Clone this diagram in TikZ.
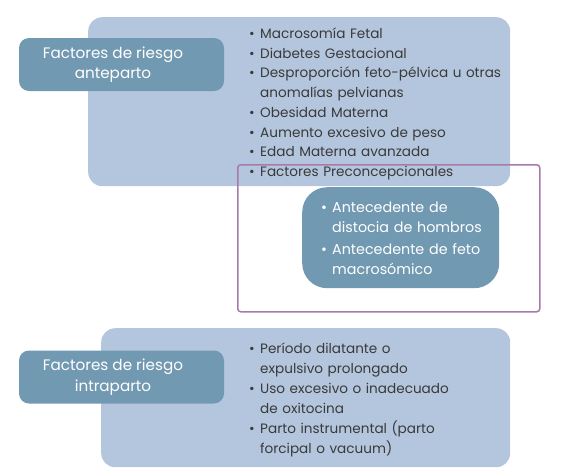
\documentclass[tikz,border=0pt]{standalone}
\usepackage{fontspec}
\setmainfont{Poppins}
\usetikzlibrary{positioning}

\definecolor{panelblue}{HTML}{B4C6DD}
\definecolor{tagblue}{HTML}{7299B2}
\definecolor{framepurple}{HTML}{A87AAA}
\definecolor{listgray}{HTML}{3A3A3A}

% one bullet line, later lines hang under the text
\newcommand{\bitem}[1]{\par\noindent\makebox[11pt][l]{\textbullet}\begin{tabular}[t]{@{}l@{}}#1\end{tabular}\par}
% two centred lines for a tag
\newcommand{\taglines}[1]{\begin{tabular}{@{}c@{}}#1\end{tabular}}

\begin{document}
\begin{tikzpicture}[
      x=1pt, y=-1pt,
      panel/.style={fill=panelblue, rounded corners=14pt, anchor=north west, inner sep=0pt},
      tag/.style={fill=tagblue, rounded corners=10pt, minimum width=205pt, minimum height=53pt},
      tagtext/.style={text=white, inner sep=0pt, font=\fontsize{15.2}{20.5}\selectfont},
      items/.style={anchor=north west, inner sep=0pt, text width=300pt, text=listgray, font=\fontsize{13.6}{19.5}\selectfont},
      frame/.style={draw=framepurple, line width=1.5pt, rounded corners=3pt, anchor=north west, inner sep=0pt}
  ]
    \useasboundingbox (0,0) rectangle (567,475);

    % anteparto
    \node[panel, minimum width=422pt, minimum height=169pt] (antepanel) at (88,17) {};
    \node[items] (antelist) at (249,19) {
      \bitem{Macrosomía Fetal}
      \bitem{Diabetes Gestacional}
      \bitem{Desproporción feto-pélvica u otras\\anomalías pelvianas}
      \bitem{Obesidad Materna}
      \bitem{Aumento excesivo de peso}
      \bitem{Edad Materna avanzada}
      \bitem{Factores Preconcepcionales}
    };
    \node[frame, minimum width=302pt, minimum height=147pt] (preframe) at (237,164) {};
    \node[tag] (antetag) at (121.5,64.5) {};
    \node[tagtext] (antetext) at ([xshift=-8.5pt]antetag.center) {\taglines{Factores de riesgo\\anteparto}};
    \node[fill=tagblue, rounded corners=25pt, anchor=north west, minimum width=197pt, minimum height=101pt, inner sep=0pt] (prebox) at (302,187) {};
    \node[items, text=white, text width=180pt, font=\fontsize{14.3}{20.3}\selectfont] (prelist) at (321,192) {
      \bitem{Antecedente de\\distocia de hombros}
      \bitem{Antecedente de feto\\macrosómico}
    };

    % intraparto
    \node[panel, minimum width=409pt, minimum height=139pt] (intrapanel) at (101,328) {};
    \node[items] (intralist) at (249,334) {
      \bitem{Período dilatante o\\expulsivo prolongado}
      \bitem{Uso excesivo o inadecuado\\de oxitocina}
      \bitem{Parto instrumental (parto\\forcipal o vacuum)}
    };
    \node[tag] (intratag) at (121.5,377) {};
    \node[tagtext] (intratext) at ([xshift=-8.5pt]intratag.center) {\taglines{Factores de riesgo\\intraparto}};
  \end{tikzpicture}
\end{document}
